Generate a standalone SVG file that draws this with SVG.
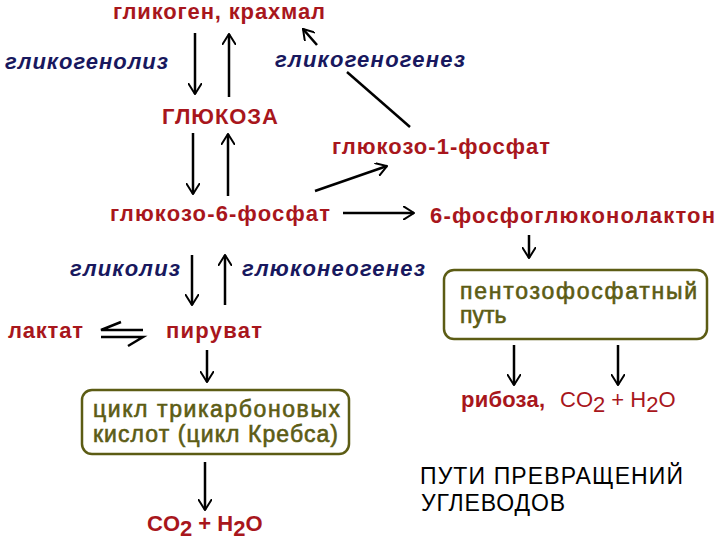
<svg xmlns="http://www.w3.org/2000/svg" width="720" height="540" viewBox="0 0 720 540">
<style>
.r{font-family:"Liberation Sans",Arial,sans-serif;font-weight:bold;fill:#a8161c;font-size:22px}
.n{font-family:"Liberation Sans",Arial,sans-serif;font-weight:bold;font-style:italic;fill:#18185e;font-size:22px}
.o{font-family:"Liberation Sans",Arial,sans-serif;fill:#5c5c14;font-size:23px;stroke:#5c5c14;stroke-width:0.6}
.k{font-family:"Liberation Sans",Arial,sans-serif;fill:#000;font-size:23px}
.box{fill:#fff;stroke:#5c5c14;stroke-width:2.5}
.c line,.c path{stroke:#000;stroke-width:2.5;fill:none}
</style>
<defs>
<marker id="a" viewBox="0 0 12 14" refX="11" refY="7" markerWidth="12" markerHeight="14" markerUnits="userSpaceOnUse" orient="auto">
<path d="M0,0 L11,7 L0,14" fill="none" stroke="#000" stroke-width="2"/>
</marker>
</defs>
<rect width="720" height="540" fill="#fff"/>
<g class="c" id="connectors">
<line x1="195" y1="33" x2="195" y2="94" marker-end="url(#a)"/>
<line x1="229" y1="97" x2="229" y2="34" marker-end="url(#a)"/>
<line x1="193" y1="133" x2="193" y2="194" marker-end="url(#a)"/>
<line x1="228" y1="196" x2="228" y2="134" marker-end="url(#a)"/>
<line x1="347" y1="72" x2="410" y2="127"/>
<line x1="317" y1="45" x2="303" y2="29" marker-end="url(#a)"/>
<line x1="315" y1="191" x2="387" y2="166" marker-end="url(#a)"/>
<line x1="343" y1="213" x2="414" y2="213" marker-end="url(#a)"/>
<line x1="529" y1="235" x2="529" y2="258" marker-end="url(#a)"/>
<line x1="514" y1="345" x2="514" y2="385" marker-end="url(#a)"/>
<line x1="618" y1="345" x2="618" y2="385" marker-end="url(#a)"/>
<line x1="192" y1="255" x2="192" y2="305" marker-end="url(#a)"/>
<line x1="225" y1="305" x2="225" y2="255" marker-end="url(#a)"/>
<path d="M143,330 L101,330 L121,322"/>
<path d="M101,337 L143,337 L128,346"/>
<line x1="207" y1="350" x2="207" y2="382" marker-end="url(#a)"/>
<line x1="205" y1="462" x2="205" y2="510" marker-end="url(#a)"/>
</g>
<g id="glycogen"><text class="r" x="113" y="19" textLength="212">гликоген, крахмал</text></g>
<g id="glycogenolysis"><text class="n" x="5" y="69" textLength="163">гликогенолиз</text></g>
<g id="glycogenogenesis"><text class="n" x="275" y="67" textLength="190">гликогеногенез</text></g>
<g id="glucose"><text class="r" x="162" y="124" textLength="116">ГЛЮКОЗА</text></g>
<g id="g1p"><text class="r" x="332" y="154" textLength="218">глюкозо-1-фосфат</text></g>
<g id="g6p"><text class="r" x="110" y="221" textLength="220">глюкозо-6-фосфат</text></g>
<g id="pgl"><text class="r" x="430" y="223" textLength="285">6-фосфоглюконолактон</text></g>
<g id="glycolysis"><text class="n" x="70" y="276" textLength="110">гликолиз</text></g>
<g id="gluconeogenesis"><text class="n" x="242" y="276" textLength="183">глюконеогенез</text></g>
<g id="lactate"><text class="r" x="8" y="338" textLength="75">лактат</text></g>
<g id="pyruvate"><text class="r" x="166" y="338" textLength="96">пируват</text></g>
<g id="ppp">
<rect class="box" x="444" y="270" width="263" height="69" rx="10"/>
<text class="o" x="460" y="299" textLength="237">пентозофосфатный</text>
<text class="o" x="460" y="323">путь</text>
</g>
<g id="ribose"><text class="r" x="461" y="407"><tspan textLength="84">рибоза,</tspan><tspan x="560" font-weight="normal">CO<tspan dy="5">2</tspan><tspan dy="-5"> + H</tspan><tspan dy="5">2</tspan><tspan dy="-5">O</tspan></tspan></text></g>
<g id="tca">
<rect class="box" x="82" y="390" width="267" height="64" rx="10"/>
<text class="o" x="93" y="417" textLength="247">цикл трикарбоновых</text>
<text class="o" x="93" y="442" textLength="245">кислот (цикл Кребса)</text>
</g>
<g id="co2h2o"><text class="r" x="147" y="531">CO<tspan dy="5">2</tspan><tspan dy="-5"> + H</tspan><tspan dy="5">2</tspan><tspan dy="-5">O</tspan></text></g>
<g id="title">
<text class="k" x="420" y="484" textLength="263">ПУТИ ПРЕВРАЩЕНИЙ</text>
<text class="k" x="421" y="511" textLength="144">УГЛЕВОДОВ</text>
</g>
</svg>
